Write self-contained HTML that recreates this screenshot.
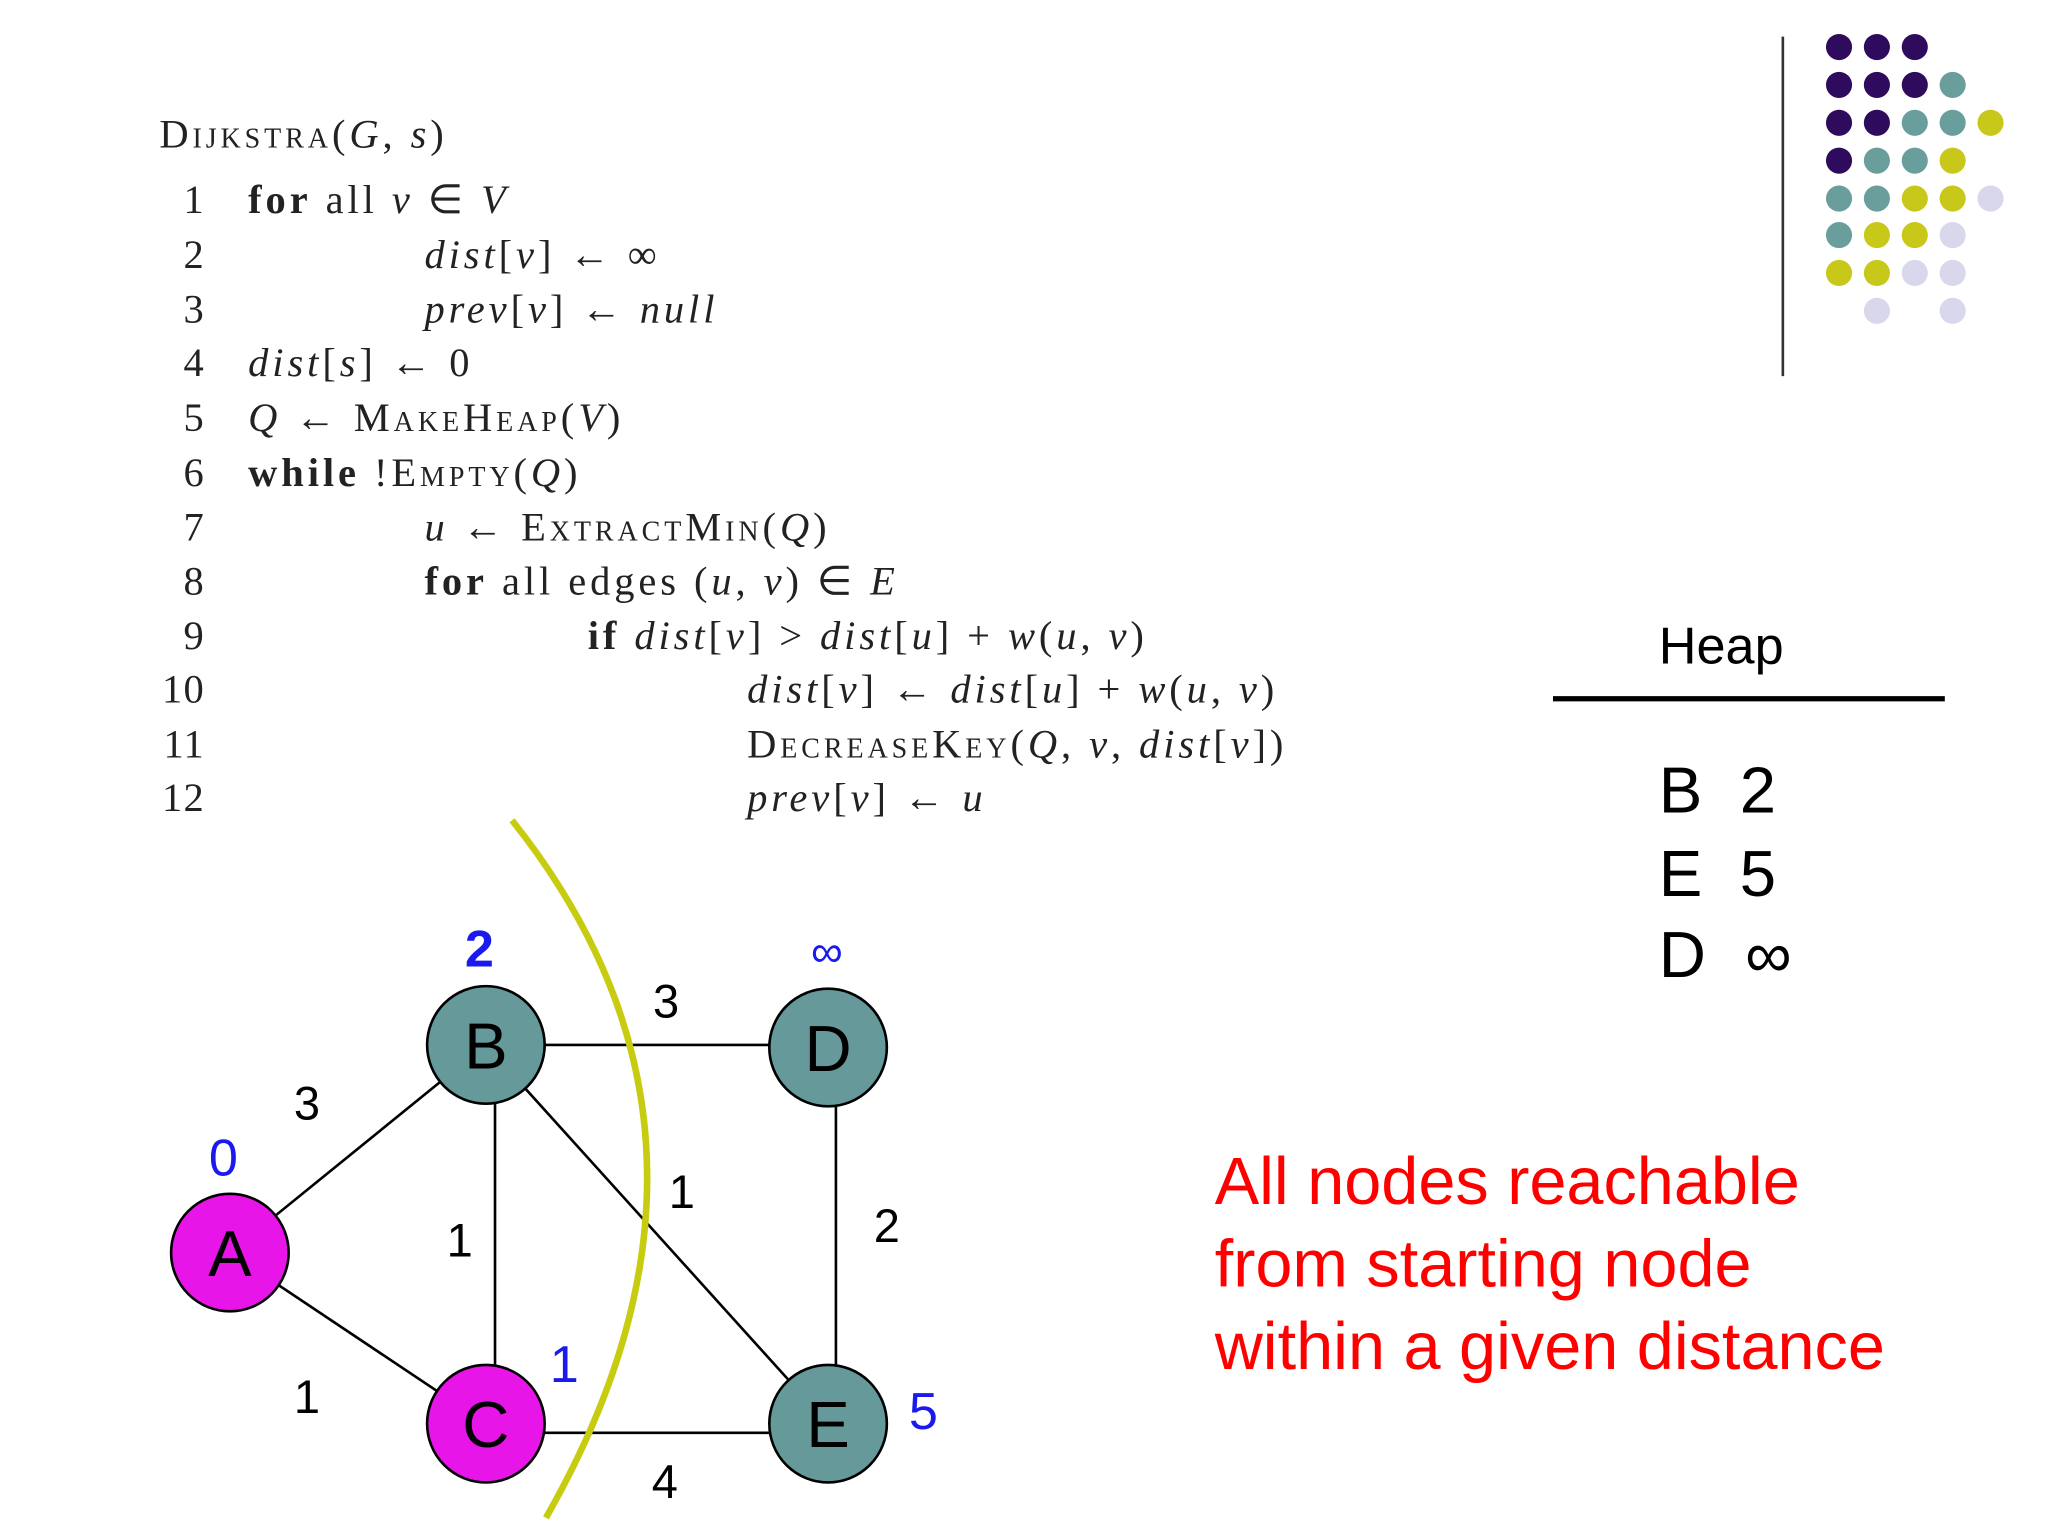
<!DOCTYPE html>
<html><head><meta charset="utf-8"><style>
html,body{margin:0;padding:0;background:#fff;}
svg{display:block;}
.s{font-family:"Liberation Serif",serif;font-size:31px;fill:#222;letter-spacing:3px;}
.sc{font-variant:small-caps;}
.b{font-weight:bold;}
.a{font-family:"Liberation Sans",sans-serif;}
</style></head><body>
<svg width="2048" height="1536" viewBox="0 0 1568 1176" xmlns="http://www.w3.org/2000/svg">
<rect width="1568" height="1176" fill="#fff"/>
<g>
<circle cx="1408" cy="36" r="10" fill="#2e0b5c"/><circle cx="1437" cy="36" r="10" fill="#2e0b5c"/><circle cx="1466" cy="36" r="10" fill="#2e0b5c"/>
<circle cx="1408" cy="65" r="10" fill="#2e0b5c"/><circle cx="1437" cy="65" r="10" fill="#2e0b5c"/><circle cx="1466" cy="65" r="10" fill="#2e0b5c"/><circle cx="1495" cy="65" r="10" fill="#6a9e9c"/>
<circle cx="1408" cy="94" r="10" fill="#2e0b5c"/><circle cx="1437" cy="94" r="10" fill="#2e0b5c"/><circle cx="1466" cy="94" r="10" fill="#6a9e9c"/><circle cx="1495" cy="94" r="10" fill="#6a9e9c"/><circle cx="1524" cy="94" r="10" fill="#c8c81a"/>
<circle cx="1408" cy="123" r="10" fill="#2e0b5c"/><circle cx="1437" cy="123" r="10" fill="#6a9e9c"/><circle cx="1466" cy="123" r="10" fill="#6a9e9c"/><circle cx="1495" cy="123" r="10" fill="#c8c81a"/>
<circle cx="1408" cy="152" r="10" fill="#6a9e9c"/><circle cx="1437" cy="152" r="10" fill="#6a9e9c"/><circle cx="1466" cy="152" r="10" fill="#c8c81a"/><circle cx="1495" cy="152" r="10" fill="#c8c81a"/><circle cx="1524" cy="152" r="10" fill="#d9d7ec"/>
<circle cx="1408" cy="180" r="10" fill="#6a9e9c"/><circle cx="1437" cy="180" r="10" fill="#c8c81a"/><circle cx="1466" cy="180" r="10" fill="#c8c81a"/><circle cx="1495" cy="180" r="10" fill="#d9d7ec"/>
<circle cx="1408" cy="209" r="10" fill="#c8c81a"/><circle cx="1437" cy="209" r="10" fill="#c8c81a"/><circle cx="1466" cy="209" r="10" fill="#d9d7ec"/><circle cx="1495" cy="209" r="10" fill="#d9d7ec"/>
<circle cx="1437" cy="238" r="10" fill="#d9d7ec"/><circle cx="1495" cy="238" r="10" fill="#d9d7ec"/>
</g>
<line x1="1365" y1="28" x2="1365" y2="288" stroke="#333" stroke-width="2"/>
<g class="s">
<text x="122" y="113"><tspan class="sc">Dijkstra</tspan>(<tspan font-style="italic">G</tspan>, <tspan font-style="italic">s</tspan>)</text>
<g text-anchor="end" letter-spacing="1">
<text x="157" y="163">1</text><text x="157" y="205">2</text><text x="157" y="247">3</text><text x="157" y="288">4</text><text x="157" y="330">5</text><text x="157" y="372">6</text><text x="157" y="414">7</text><text x="157" y="455">8</text><text x="157" y="497">9</text><text x="157" y="538">10</text><text x="157" y="580">11</text><text x="157" y="621">12</text>
</g>
<text x="190" y="163"><tspan class="b">for</tspan> all <tspan font-style="italic">v</tspan> ∈ <tspan font-style="italic">V</tspan></text>
<text x="325" y="205" font-style="italic">dist<tspan font-style="normal">[</tspan>v<tspan font-style="normal">] ← ∞</tspan></text>
<text x="325" y="247" font-style="italic">prev<tspan font-style="normal">[</tspan>v<tspan font-style="normal">] ← </tspan>null</text>
<text x="190" y="288" font-style="italic">dist<tspan font-style="normal">[</tspan>s<tspan font-style="normal">] ← 0</tspan></text>
<text x="190" y="330"><tspan font-style="italic">Q</tspan> ← <tspan class="sc">MakeHeap</tspan>(<tspan font-style="italic">V</tspan>)</text>
<text x="190" y="372"><tspan class="b">while</tspan> !<tspan class="sc">Empty</tspan>(<tspan font-style="italic">Q</tspan>)</text>
<text x="325" y="414"><tspan font-style="italic">u</tspan> ← <tspan class="sc">ExtractMin</tspan>(<tspan font-style="italic">Q</tspan>)</text>
<text x="325" y="455"><tspan class="b">for</tspan> all edges (<tspan font-style="italic">u</tspan>, <tspan font-style="italic">v</tspan>) ∈ <tspan font-style="italic">E</tspan></text>
<text x="450" y="497"><tspan class="b">if</tspan> <tspan font-style="italic">dist</tspan>[<tspan font-style="italic">v</tspan>] &gt; <tspan font-style="italic">dist</tspan>[<tspan font-style="italic">u</tspan>] + <tspan font-style="italic">w</tspan>(<tspan font-style="italic">u</tspan>, <tspan font-style="italic">v</tspan>)</text>
<text x="572" y="538"><tspan font-style="italic">dist</tspan>[<tspan font-style="italic">v</tspan>] ← <tspan font-style="italic">dist</tspan>[<tspan font-style="italic">u</tspan>] + <tspan font-style="italic">w</tspan>(<tspan font-style="italic">u</tspan>, <tspan font-style="italic">v</tspan>)</text>
<text x="572" y="580"><tspan class="sc">DecreaseKey</tspan>(<tspan font-style="italic">Q</tspan>, <tspan font-style="italic">v</tspan>, <tspan font-style="italic">dist</tspan>[<tspan font-style="italic">v</tspan>])</text>
<text x="572" y="621"><tspan font-style="italic">prev</tspan>[<tspan font-style="italic">v</tspan>] ← <tspan font-style="italic">u</tspan></text>
</g>
<g class="a" font-size="40" fill="#000">
<text x="1270" y="508">Heap</text>
<text x="1270" y="622" font-size="50">B</text><text x="1332" y="622" font-size="50">2</text>
<text x="1270" y="686" font-size="50">E</text><text x="1332" y="686" font-size="50">5</text>
<text x="1270" y="748" font-size="50">D</text><text x="1336" y="748" font-size="50">∞</text>
</g>
<line x1="1189" y1="535" x2="1489" y2="535" stroke="#000" stroke-width="4"/>
<g class="a" font-size="51" fill="#ff0000">
<text x="930" y="922">All nodes reachable</text>
<text x="930" y="985">from starting node</text>
<text x="930" y="1048">within a given distance</text>
</g>
<g stroke="#000" stroke-width="2">
<line x1="176" y1="959" x2="372" y2="800"/>
<line x1="176" y1="959" x2="372" y2="1090"/>
<line x1="372" y1="800" x2="634" y2="800"/>
<line x1="379" y1="800" x2="379" y2="1090"/>
<line x1="372" y1="800" x2="634" y2="1090"/>
<line x1="640" y1="802" x2="640" y2="1090"/>
<line x1="372" y1="1097" x2="634" y2="1097"/>
</g>
<path d="M392 628 Q585 870 418 1162" fill="none" stroke="#c8cc10" stroke-width="5"/>
<g stroke="#000" stroke-width="2">
<circle cx="176" cy="959" r="45" fill="#e815e8"/>
<circle cx="372" cy="800" r="45" fill="#669999"/>
<circle cx="634" cy="802" r="45" fill="#669999"/>
<circle cx="372" cy="1090" r="45" fill="#e815e8"/>
<circle cx="634" cy="1090" r="45" fill="#669999"/>
</g>
<g class="a" font-size="50" fill="#000" text-anchor="middle">
<text x="176" y="977">A</text><text x="372" y="818">B</text><text x="634" y="820">D</text><text x="372" y="1108">C</text><text x="634" y="1108">E</text>
</g>
<g class="a" font-size="36" fill="#000" text-anchor="middle">
<text x="235" y="857">3</text><text x="235" y="1082">1</text><text x="352" y="962">1</text><text x="510" y="779">3</text><text x="522" y="925">1</text><text x="679" y="951">2</text><text x="509" y="1147">4</text>
</g>
<g class="a" font-size="40" fill="#1a1aee" text-anchor="middle">
<text x="171" y="900">0</text><text x="367" y="740" font-weight="bold">2</text><text x="633" y="740" font-size="34">∞</text><text x="432" y="1058">1</text><text x="707" y="1094">5</text>
</g>
</svg>
</body></html>
